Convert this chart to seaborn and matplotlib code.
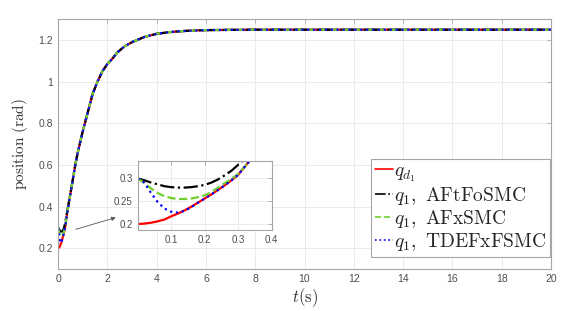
import numpy as np
import pandas as pd
import matplotlib
matplotlib.use("Agg")
import matplotlib.pyplot as plt
from matplotlib.ticker import FormatStrFormatter
import seaborn as sns

# tiempo (s)
t = [0, 0.02, 0.04, 0.06, 0.08, 0.10, 0.12, 0.14, 0.16, 0.18, 0.20, 0.22, 0.24,
     0.26, 0.28, 0.30, 0.33, 0.36, 0.40, 0.5, 0.6, 0.7, 0.8, 0.9, 1.0, 1.2, 1.4,
     1.6, 1.8, 2.0, 2.2, 2.4, 2.7, 3.0, 3.5, 4.0, 4.5, 5.0, 5.5, 6.0, 7.0, 8.0,
     10, 12, 14, 16, 18, 20]

# trayectoria deseada q_d1
q_d = [0.200, 0.201, 0.203, 0.206, 0.210, 0.217, 0.223, 0.230, 0.238, 0.247,
       0.256, 0.265, 0.275, 0.285, 0.296, 0.308, 0.335, 0.360, 0.390, 0.460,
       0.530, 0.600, 0.660, 0.710, 0.760, 0.850, 0.940, 1.000, 1.050, 1.085,
       1.110, 1.140, 1.170, 1.190, 1.215, 1.230, 1.238, 1.243, 1.246, 1.248,
       1.249, 1.250, 1.250, 1.250, 1.250, 1.250, 1.250, 1.250]

q_aftfo = [0.300, 0.296, 0.291, 0.287, 0.283, 0.281, 0.280, 0.280, 0.281, 0.283,
           0.286, 0.291, 0.298, 0.307, 0.317, 0.330, 0.350, 0.370, 0.395, 0.462,
           0.530, 0.600, 0.660, 0.710, 0.760, 0.850, 0.940, 1.000, 1.050, 1.085,
           1.110, 1.140, 1.170, 1.190, 1.215, 1.230, 1.238, 1.243, 1.246, 1.248,
           1.249, 1.250, 1.250, 1.250, 1.250, 1.250, 1.250, 1.250]

q_afx = [0.300, 0.290, 0.278, 0.268, 0.261, 0.257, 0.255, 0.255, 0.256, 0.259,
         0.263, 0.270, 0.280, 0.290, 0.299, 0.310, 0.335, 0.360, 0.390, 0.460,
         0.530, 0.600, 0.660, 0.710, 0.760, 0.850, 0.940, 1.000, 1.050, 1.085,
         1.110, 1.140, 1.170, 1.190, 1.215, 1.230, 1.238, 1.243, 1.246, 1.248,
         1.249, 1.250, 1.250, 1.250, 1.250, 1.250, 1.250, 1.250]

q_tdefx = [0.300, 0.291, 0.268, 0.248, 0.234, 0.227, 0.225, 0.229, 0.237, 0.247,
           0.256, 0.265, 0.275, 0.285, 0.296, 0.308, 0.335, 0.360, 0.390, 0.460,
           0.530, 0.600, 0.660, 0.710, 0.760, 0.850, 0.940, 1.000, 1.050, 1.085,
           1.110, 1.140, 1.170, 1.190, 1.215, 1.230, 1.238, 1.243, 1.246, 1.248,
           1.249, 1.250, 1.250, 1.250, 1.250, 1.250, 1.250, 1.250]

etiquetas = [r'$q_{d_1}$', r'$q_1,\ \mathrm{AFtFoSMC}$',
             r'$q_1,\ \mathrm{AFxSMC}$', r'$q_1,\ \mathrm{TDEFxFSMC}$']

sns.set_style("white")
plt.rcParams['mathtext.fontset'] = 'cm'
plt.rcParams['font.family'] = ['Liberation Sans', 'DejaVu Sans']

series = [q_d, q_aftfo, q_afx, q_tdefx]
colores = ['#ff0000', '#000000', '#6fcf2f', '#0000ff']
estilos = ['-', '-.', '--', ':']

gris = '#a6a6a6'


def estilo_ejes(ax, size):
    for s in ax.spines.values():
        s.set_color(gris)
        s.set_linewidth(0.8)
    ax.grid(True, color='#ebebeb', linewidth=0.7)
    ax.set_axisbelow(True)
    ax.tick_params(direction='in', length=3, width=0.6, color=gris,
                   labelsize=size, labelcolor='#4d4d4d', top=True, right=True)
    ax.yaxis.set_major_formatter(FormatStrFormatter('%g'))
    ax.xaxis.set_major_formatter(FormatStrFormatter('%g'))


def dibujar(ax, leyenda):
    for y, c, ls, lab in zip(series, colores, estilos, etiquetas):
        df = pd.DataFrame({'t': t, 'q': y})
        sns.lineplot(data=df, x='t', y='q', ax=ax, color=c, linestyle=ls,
                     linewidth=1.6, label=lab if leyenda else None,
                     legend=leyenda)


fig = plt.figure(figsize=(5.82, 3.11), dpi=100)
ax = fig.add_axes([0.0997, 0.135, 0.847, 0.803])
dibujar(ax, True)
ax.set_xlim(0, 20)
ax.set_ylim(0.1, 1.3)
ax.set_xticks(np.arange(0, 21, 2))
ax.set_yticks([0.2, 0.4, 0.6, 0.8, 1.0, 1.2])
estilo_ejes(ax, 7.5)
ax.set_xlabel(r'$t(\mathrm{s})$', fontsize=12, color='#333333', labelpad=2)
ax.set_ylabel(r'$\mathrm{position\ (rad)}$', fontsize=11, color='#333333',
              labelpad=6)

leg = ax.legend(loc='upper left', bbox_to_anchor=(0.638, 0.490),
                bbox_transform=fig.transFigure, fontsize=14, frameon=True,
                fancybox=False, framealpha=1, edgecolor=gris,
                handlelength=0.9, handletextpad=0.05, labelspacing=0.05,
                borderpad=0.2, borderaxespad=0)
leg.get_frame().set_linewidth(0.8)
for h in leg.get_lines():
    h.set_linewidth(1.2)

ax.annotate('', xy=(2.45, 0.351), xytext=(0.61, 0.287),
            arrowprops=dict(arrowstyle='-|>', color='#555555', lw=0.6,
                            mutation_scale=6))

ins = fig.add_axes([0.2366, 0.2605, 0.2302, 0.2228])
dibujar(ins, False)
ins.set_xlim(0, 0.4)
ins.set_ylim(0.187, 0.339)
ins.set_xticks([0.1, 0.2, 0.3, 0.4])
ins.set_yticks([0.2, 0.25, 0.3])
estilo_ejes(ins, 7)
ins.set_xlabel('')
ins.set_ylabel('')

fig.savefig('out.png', dpi=100)
